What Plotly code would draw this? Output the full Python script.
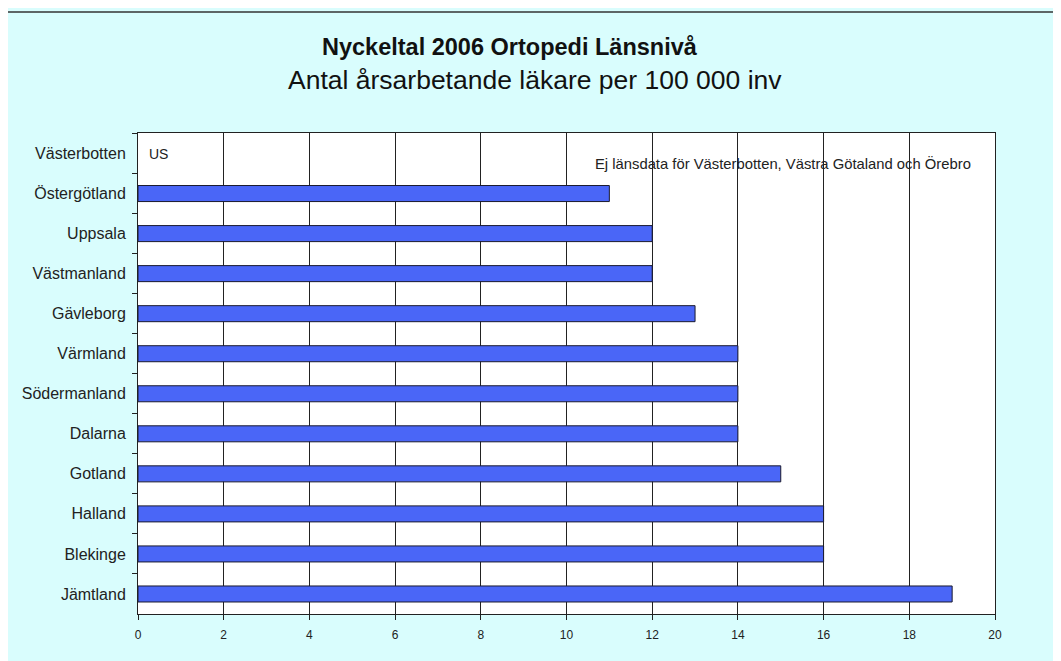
import plotly.graph_objects as go

# Data
lan = ['Västerbotten', 'Östergötland', 'Uppsala', 'Västmanland', 'Gävleborg', 'Värmland',
       'Södermanland', 'Dalarna', 'Gotland', 'Halland', 'Blekinge', 'Jämtland']
lakare = [None, 11, 12, 12, 13, 14, 14, 14, 15, 16, 16, 19]
x_ticks = [0, 2, 4, 6, 8, 10, 12, 14, 16, 18, 20]

bar_color = '#4a66f7'
bg_color = '#d9fdfd'

fig = go.Figure(go.Bar(
    x=lakare, y=lan, orientation='h',
    width=0.4,
    marker=dict(color=bar_color, line=dict(color='#1a1a2e', width=1)),
))

fig.add_annotation(x=0.22, y='Västerbotten', text='US', showarrow=False,
                   xanchor='left', font=dict(size=14, color='#222'))
fig.add_annotation(x=10.62, y='Västerbotten', yshift=-10,
                   text='Ej länsdata för Västerbotten, Västra Götaland och Örebro',
                   showarrow=False, xanchor='left', font=dict(size=14.8, color='#222'))

# title + subtitle as two paper annotations
fig.add_annotation(xref='paper', yref='paper', x=372 / 857, y=1 + 86 / 481, yanchor='middle',
                   text='<b>Nyckeltal 2006 Ortopedi Länsnivå</b>', showarrow=False,
                   font=dict(size=23.5, color='#111'))
fig.add_annotation(xref='paper', yref='paper', x=397 / 857, y=1 + 53 / 481, yanchor='middle',
                   text='Antal årsarbetande läkare per 100 000 inv', showarrow=False,
                   font=dict(size=26.5, color='#111'))

# outer frame (page has 8px body margin, frame sits ~1px left / 4px below fig origin)
fx = -131 / 857
fy = 1 + 121 / 481
fig.add_shape(type='line', xref='paper', yref='paper', x0=fx, x1=fx, y0=-0.2, y1=fy,
              line=dict(color='#333', width=1.5))
fig.add_shape(type='line', xref='paper', yref='paper', x0=fx, x1=1.2, y0=fy, y1=fy,
              line=dict(color='#333', width=1.5))

fig.update_layout(
    width=1053, height=653,
    font=dict(family='Liberation Sans, Arial', color='#222'),
    paper_bgcolor=bg_color,
    plot_bgcolor='white',
    margin=dict(l=130, r=66, t=125, b=47),
    showlegend=False,
)

fig.update_xaxes(range=[0, 20], tickvals=x_ticks, showgrid=True, gridcolor='#222', gridwidth=1,
                 ticks='outside', ticklen=5, tickcolor='#222', tickfont=dict(size=12),
                 ticklabelstandoff=5,
                 showline=True, linecolor='#222', linewidth=1, mirror=True, zeroline=False)
fig.update_yaxes(categoryorder='array', categoryarray=lan, autorange='reversed',
                 tickson='boundaries', ticks='outside', ticklen=5, tickcolor='#222',
                 ticklabelstandoff=8,
                 tickfont=dict(size=16), showline=True, linecolor='#222', linewidth=1, mirror=True,
                 showgrid=False)

fig.write_html("out.html")
